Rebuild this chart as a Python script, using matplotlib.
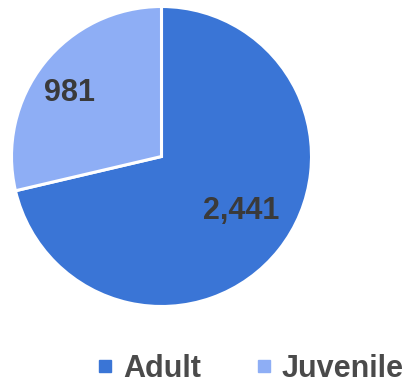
import numpy as np
import matplotlib
matplotlib.use('Agg')
import matplotlib.pyplot as plt
from matplotlib.lines import Line2D

plt.rcParams['font.family'] = ['Liberation Sans', 'DejaVu Sans']

# data
categories = ['Adult', 'Juvenile']
counts = [2441, 981]
colors = ['#3a75d6', '#8eaef5']
label_dist = [0.645, 0.745]  # radial position of each value label
label_turn = 4.0  # labels sit a little counter-clockwise of the wedge middle

fig = plt.figure(figsize=(4.09, 3.86), dpi=100)
# square axes, 300x300 px, centred on the pie
ax = fig.add_axes([11.5 / 409, 79.5 / 386, 300 / 409, 300 / 386])

wedges, _ = ax.pie(counts, colors=colors, startangle=90, counterclock=False,
                   radius=1, wedgeprops=dict(edgecolor='white', linewidth=2.2))
ax.set_xlim(-1, 1)
ax.set_ylim(-1, 1)
ax.set_aspect('equal')
ax.axis('off')

# value labels inside each wedge
for w, v, d in zip(wedges, counts, label_dist):
    mid = np.deg2rad((w.theta1 + w.theta2) / 2 + label_turn)
    ax.text(d * np.cos(mid), d * np.sin(mid), f'{v:,}', ha='center', va='center',
            fontsize=22, fontweight='bold', color='#3a3a3a')

handles = [Line2D([], [], marker='s', linestyle='none', markersize=8.5,
                  markerfacecolor=c, markeredgecolor=c) for c in colors]
fig.legend(handles, categories, loc='center', bbox_to_anchor=(0.603, 0.045), ncol=2,
           frameon=False, handletextpad=0.1, columnspacing=1.55, handlelength=1.0,
           prop=dict(size=22, weight='bold'), labelcolor='#4a4a4a')

fig.savefig('out.png', dpi=100)
